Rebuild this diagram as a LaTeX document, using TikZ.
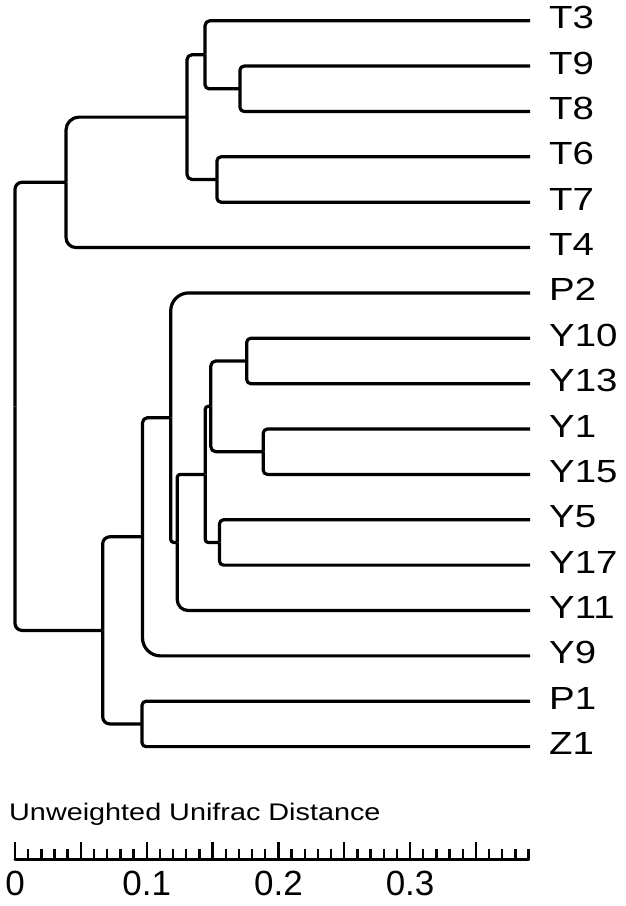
\documentclass[tikz,border=0pt]{standalone}
\usepackage{fontspec}
\setmainfont{Liberation Sans}
\usepackage{graphicx}
\newcommand\brn[3][4]{\draw[branch,rounded corners=#1pt] (#2) |- (#3);}
\newcommand\leaflabel[3]{\node[leaflab] (l#1) at (549,#2+8) {\scalebox{1.2}[1]{#3}};}
\begin{document}
\begin{tikzpicture}[x=1pt,y=-1pt,
  branch/.style={line width=3.2pt,line join=round,black},
  leaflab/.style={anchor=base west,inner sep=0pt,font=\fontsize{32}{32}\selectfont},
  axisline/.style={line width=3pt,line cap=round},
  tickmark/.style={line width=2.4pt},
  ticklab/.style={inner sep=0pt,font=\fontsize{35}{35}\selectfont}]
\useasboundingbox (0,0) rectangle (625,906);
% leaves
\coordinate (T3) at (530,20.7);
\coordinate (T9) at (530,66.07);
\coordinate (T8) at (530,111.44);
\coordinate (T6) at (530,156.81);
\coordinate (T7) at (530,202.18);
\coordinate (T4) at (530,247.55);
\coordinate (P2) at (530,292.92);
\coordinate (Y10) at (530,338.29);
\coordinate (Y13) at (530,383.66);
\coordinate (Y1) at (530,429.03);
\coordinate (Y15) at (530,474.4);
\coordinate (Y5) at (530,519.77);
\coordinate (Y17) at (530,565.14);
\coordinate (Y11) at (530,610.51);
\coordinate (Y9) at (530,655.88);
\coordinate (P1) at (530,701.25);
\coordinate (Z1) at (530,746.62);
% internal nodes
\coordinate (n98) at (240,88.76);
\coordinate (n398) at (205,54.73);
\coordinate (n67) at (217,179.5);
\coordinate (nT) at (187,117.1);
\coordinate (nT4) at (66,182.3);
\coordinate (n1013) at (246.7,360.98);
\coordinate (n115) at (263.3,451.7);
\coordinate (nA) at (210.8,406.3);
\coordinate (n517) at (219.5,542.46);
\coordinate (nB) at (205.2,474.4);
\coordinate (nC) at (177.2,542.45);
\coordinate (nD) at (170.7,417.7);
\coordinate (nE) at (142.5,536.8);
\coordinate (nPZ) at (142,723.9);
\coordinate (nF) at (102.7,630.4);
\coordinate (root) at (15,406.3);
% branches
\brn[7]{root}{nT4}
\brn[7]{root}{nF}
\brn[13]{nT4}{nT}
\brn[10]{nT4}{T4}
\brn[5]{nT}{n398}
\brn[5]{nT}{n67}
\brn[5]{n398}{T3}
\brn[4]{n398}{n98}
\brn[4]{n98}{T9}
\brn[4]{n98}{T8}
\brn[4]{n67}{T6}
\brn[4]{n67}{T7}
\brn[7]{nF}{nE}
\brn[7]{nF}{nPZ}
\brn[5]{nE}{nD}
\brn[18]{nE}{Y9}
\brn[4]{nPZ}{P1}
\brn[4]{nPZ}{Z1}
\brn[18]{nD}{P2}
\brn[3]{nD}{nC}
\brn[3]{nC}{nB}
\brn[11]{nC}{Y11}
\brn[3]{nB}{nA}
\brn[3]{nB}{n517}
\brn[5]{nA}{n1013}
\brn[5]{nA}{n115}
\brn[4]{n1013}{Y10}
\brn[4]{n1013}{Y13}
\brn[4]{n115}{Y1}
\brn[4]{n115}{Y15}
\brn[4]{n517}{Y5}
\brn[4]{n517}{Y17}
% labels
\leaflabel{T3}{20.7}{T3}
\leaflabel{T9}{66.07}{T9}
\leaflabel{T8}{111.44}{T8}
\leaflabel{T6}{156.81}{T6}
\leaflabel{T7}{202.18}{T7}
\leaflabel{T4}{247.55}{T4}
\leaflabel{P2}{292.92}{P2}
\leaflabel{Y10}{338.29}{Y10}
\leaflabel{Y13}{383.66}{Y13}
\leaflabel{Y1}{429.03}{Y1}
\leaflabel{Y15}{474.4}{Y15}
\leaflabel{Y5}{519.77}{Y5}
\leaflabel{Y17}{565.14}{Y17}
\leaflabel{Y11}{610.51}{Y11}
\leaflabel{Y9}{655.88}{Y9}
\leaflabel{P1}{701.25}{P1}
\leaflabel{Z1}{746.62}{Z1}
% scale bar
\node[anchor=base west,inner sep=0pt,font=\fontsize{24}{24}\selectfont] (title) at (9,820) {\scalebox{1.2}[1]{Unweighted Unifrac Distance}};
\coordinate (axL) at (15,859);
\coordinate (axR) at (528.6,859);
\draw[axisline] (axL) -- (axR);
\foreach \i in {0,...,39} {
  \pgfmathsetmacro\xx{15+13.17*\i}
  \pgfmathtruncatemacro\m{mod(\i,5)}
  \ifnum\m=0
    \draw[tickmark] (\xx,859) -- (\xx,842);
  \else
    \draw[tickmark] (\xx,859) -- (\xx,849);
  \fi
}
\node[ticklab] (t0) at (15,883) {0};
\node[ticklab] (t1) at (146.7,883) {0.1};
\node[ticklab] (t2) at (278.4,883) {0.2};
\node[ticklab] (t3) at (410.1,883) {0.3};
\end{tikzpicture}
\end{document}
